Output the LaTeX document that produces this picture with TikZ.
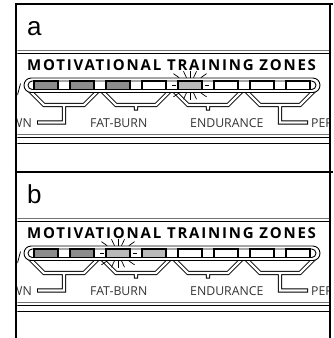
\documentclass[tikz,border=0pt]{standalone}
\usepackage{fontspec}
\setmainfont{Liberation Sans}
\newfontfamily\zonefont{Open Sans}
\newfontfamily\zonetitlefont[LetterSpace=12]{Open Sans}
\definecolor{zonedark}{RGB}{140,140,140}
\definecolor{zonelit}{RGB}{186,186,186}

\begin{document}
\begin{tikzpicture}[x=1pt,y=-1pt]
	\tikzstyle{frame}=[line width=2.5pt]
	\tikzstyle{rule}=[line width=0.9pt]
	\tikzstyle{zonebox}=[draw,line width=1.2pt]
	\tikzstyle{tubeout}=[line width=4.2pt]
	\tikzstyle{tubein}=[line width=2.2pt,white,shorten >=1pt]
	\tikzstyle{ray}=[line width=0.7pt]
	\tikzstyle{zonelabel}=[inner sep=0pt,font=\zonefont\fontsize{12.3}{12}\selectfont,text=black!80]
	\useasboundingbox (0,0) rectangle (333,338);

	\foreach \p/\off/\lit/\fills in {a/0/5/{zonedark,zonedark,zonedark,white,zonelit,white,white,white},
		b/168/3/{zonedark,zonedark,zonelit,zonelit,white,white,white,white}} {
		\begin{scope}[yshift=-\off pt]
			\begin{scope}
				\clip (17.25,0) rectangle (328.75,170);
				\node [anchor=base west,inner sep=0pt,font=\fontsize{26}{26}\selectfont] (lab-\p) at (27,35) {\p};
				\draw [rule,black!55] (16,50.5) -- (330,50.5);
				\draw [rule] (16,53.5) -- (330,53.5);
				\node [anchor=base west,inner sep=0pt,font=\zonetitlefont\bfseries\fontsize{15}{15}\selectfont] (title-\p) at (27,70.5) {MOTIVATIONAL TRAINING ZONES};
				\draw [line width=0.8pt] (20.5,83.5) -- (17.5,95);
				% brackets under the pairs of boxes
				\foreach \s in {tubeout,tubein} {
					\draw [\s] (28,89) -- (44,105) -- (84,105) -- (100,89) (64,105) -- (64,122.5) -- (37,122.5);
					\draw [\s] (100,89) -- (116,105) -- (156,105) -- (172,89) (136,105) -- (136,110.5);
					\draw [\s] (172,89) -- (188,105) -- (228,105) -- (244,89) (208,105) -- (208,110.5);
					\draw [\s] (244,89) -- (260,105) -- (300,105) -- (316,89) (280,105) -- (280,122.5) -- (308,122.5);
				}
				% the bar
				\draw [line width=0.9pt,fill=white,rounded corners=7.25pt] (24,78) rectangle (320,92.5);
				\draw [line width=0.9pt,rounded corners=4.25pt] (28,81) rectangle (316,89.5);
				\foreach \f [count=\i] in \fills
					\draw [zonebox,fill=\f] ({34+36*(\i-1)},81) rectangle ++(24,8.5);
				\pgfmathsetmacro\litx{34+36*(\lit-1)+12}
				\foreach \a in {35,65,90,115,145,215,245,270,295,325}
					\draw [ray] ([shift={(\a:{7.6/abs(sin(\a))})}]\litx,85.25) -- ++(\a:7);
				\draw [ray] (\litx-18,85.25) -- (\litx-14,85.25);
				\draw [ray] (\litx+14.5,85.25) -- (\litx+18.5,85.25);
				\node [zonelabel,anchor=base east] (cool-\p) at (32,127) {WN};
				\node [zonelabel,anchor=base west] (fat-\p) at (90,127) {FAT-BURN};
				\node [zonelabel,anchor=base west] (endu-\p) at (190,127) {ENDURANCE};
				\node [zonelabel,anchor=base west] (perf-\p) at (311,127) {PER};
				\draw [rule,black!55] (16,134.5) -- (330,134.5);
				\draw [rule] (16,137.5) -- (330,137.5);
				\draw [rule] (16,143.5) -- (330,143.5);
			\end{scope}
			\draw [frame] (14.75,4) -- (333,4);
		\end{scope}
	}
	\draw [frame] (16,2.75) -- (16,338);
	\draw [frame] (330,2.75) -- (330,338);
\end{tikzpicture}
\end{document}
